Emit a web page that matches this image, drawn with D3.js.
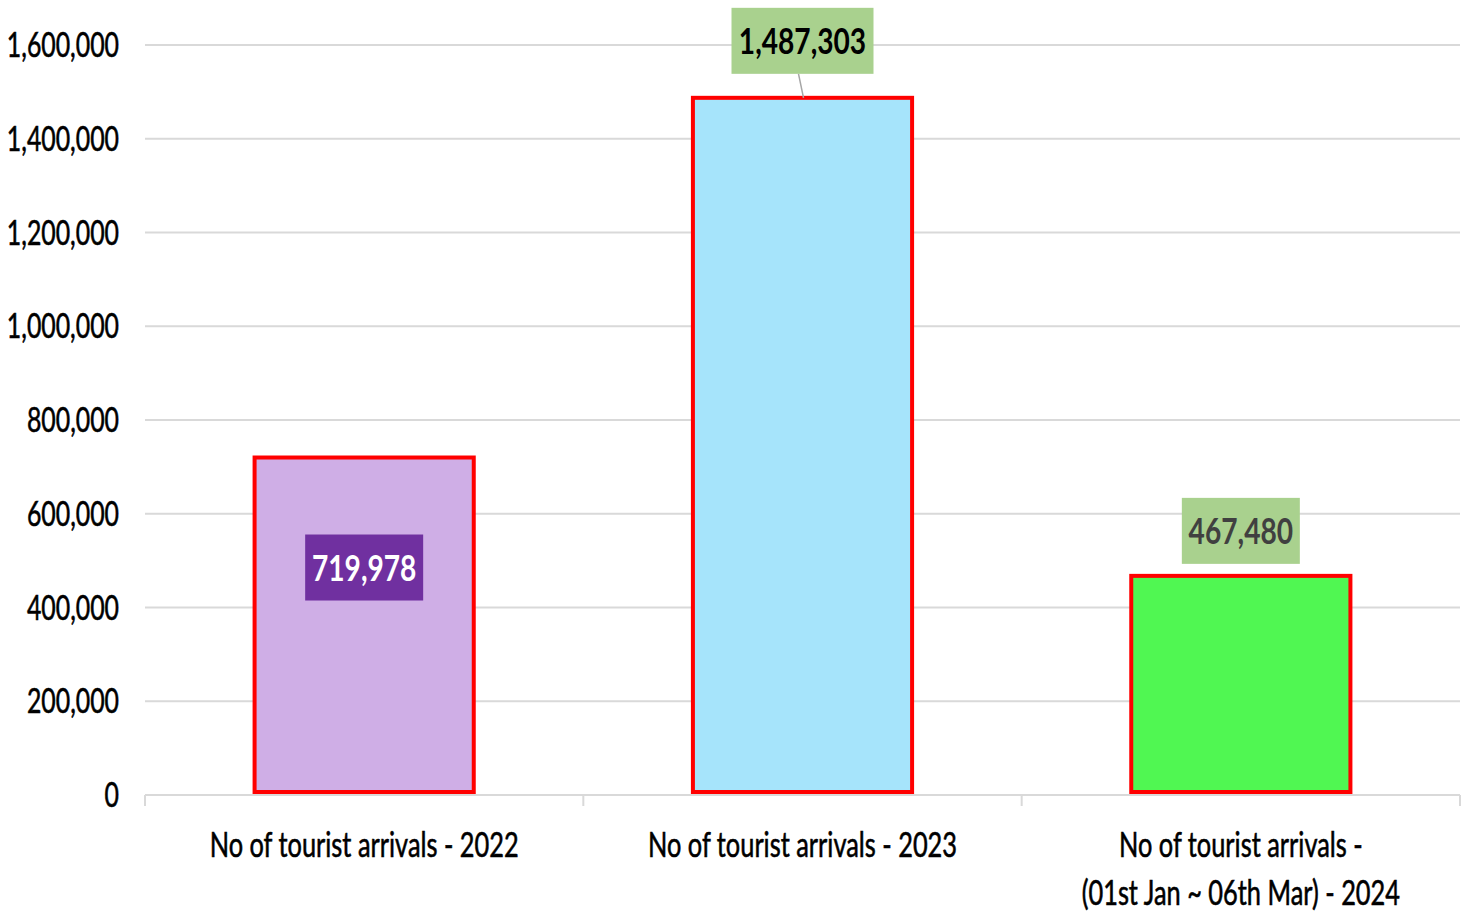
<!DOCTYPE html>
<html><head><meta charset="utf-8">
<script src="https://cdn.jsdelivr.net/npm/d3@7"></script>
<style>html,body{margin:0;padding:0;background:#fff;}svg{display:block;}</style>
</head><body>
<svg id="chart" width="1472" height="914"></svg>
<script>
const categories = [
  ["No of tourist arrivals - 2022"],
  ["No of tourist arrivals - 2023"],
  ["No of tourist arrivals -", "(01st Jan ~ 06th Mar) - 2024"]
];
const values = [719978, 1487303, 467480];
const yTicks = [0, 200000, 400000, 600000, 800000, 1000000, 1200000, 1400000, 1600000];
const barColors = ["#cfaee6", "#a6e4fb", "#50f752"];
const labelFills = ["#7030a0", "#a9d18e", "#a9d18e"];
const labelTextColors = ["#ffffff", "#000000", "#404040"];

(function () {
const FONT = "Lato, 'Open Sans', sans-serif";
const SX = 0.71;
const svg = d3.select("#chart");
const mLeft = 145, mRight = 1460, mTop = 45, mBottom = 795;

const x = d3.scaleBand().domain(d3.range(categories.length)).range([mLeft, mRight]).paddingInner(0).paddingOuter(0);
const y = d3.scaleLinear().domain([0, 1600000]).range([mBottom, mTop]);
const fmt = d3.format(",");

svg.append("g").selectAll("line").data(yTicks.filter(d => d > 0)).join("line")
  .attr("x1", mLeft).attr("x2", mRight)
  .attr("y1", d => y(d)).attr("y2", d => y(d))
  .attr("stroke", "#d9d9d9").attr("stroke-width", 2);

svg.append("g").selectAll("text").data(yTicks).join("text")
  .attr("transform", d => `translate(119,${y(d) + 12}) scale(${SX},1)`)
  .attr("text-anchor", "end")
  .attr("font-family", FONT).attr("font-size", 35).attr("fill", "#000")
  .attr("stroke", "#000").attr("stroke-width", 0.6)
  .text(d => fmt(d));

const bw = x.bandwidth() * 0.5;
svg.append("g").selectAll("rect").data(values).join("rect")
  .attr("x", (d, i) => x(i) + (x.bandwidth() - bw) / 2)
  .attr("y", d => y(d))
  .attr("width", bw)
  .attr("height", d => mBottom - 3 - y(d))
  .attr("fill", (d, i) => barColors[i])
  .attr("stroke", "#ff0000").attr("stroke-width", 4);

svg.append("line").attr("x1", mLeft).attr("x2", mRight).attr("y1", mBottom).attr("y2", mBottom)
  .attr("stroke", "#d9d9d9").attr("stroke-width", 2);
const bounds = d3.range(categories.length + 1).map(i => i < categories.length ? x(i) : mRight);
svg.append("g").selectAll("line").data(bounds).join("line")
  .attr("x1", d => d).attr("x2", d => d).attr("y1", mBottom).attr("y2", mBottom + 11)
  .attr("stroke", "#d9d9d9").attr("stroke-width", 2);

const cg = svg.append("g");
categories.forEach((lines, i) => {
  lines.forEach((ln, j) => {
    cg.append("text")
      .attr("transform", `translate(${x(i) + x.bandwidth() / 2},${857 + j * 48}) scale(0.725,1)`)
      .attr("text-anchor", "middle")
      .attr("font-family", FONT).attr("font-size", 35).attr("fill", "#000")
      .attr("stroke", "#000").attr("stroke-width", 0.6)
      .text(ln);
  });
});

const labelOffsets = [110, -57, -45];
const boxW = [118, 142, 118], boxH = 66;
values.forEach((v, i) => {
  const cx = x(i) + x.bandwidth() / 2;
  const cy = y(v) + labelOffsets[i];
  if (i === 1) {
    svg.append("line").attr("x1", cx - 4).attr("y1", cy + boxH / 2).attr("x2", cx + 1).attr("y2", y(v))
      .attr("stroke", "#a6a6a6").attr("stroke-width", 1.5);
  }
  svg.append("rect").attr("x", cx - boxW[i] / 2).attr("y", cy - boxH / 2)
    .attr("width", boxW[i]).attr("height", boxH).attr("fill", labelFills[i]);
  svg.append("text")
    .attr("transform", `translate(${cx},${cy + 13}) scale(0.76,1)`)
    .attr("text-anchor", "middle")
    .attr("font-family", FONT).attr("font-size", 37).attr("font-weight", 700)
    .attr("fill", labelTextColors[i])
    .text(fmt(v));
});
})();
</script>
</body></html>
